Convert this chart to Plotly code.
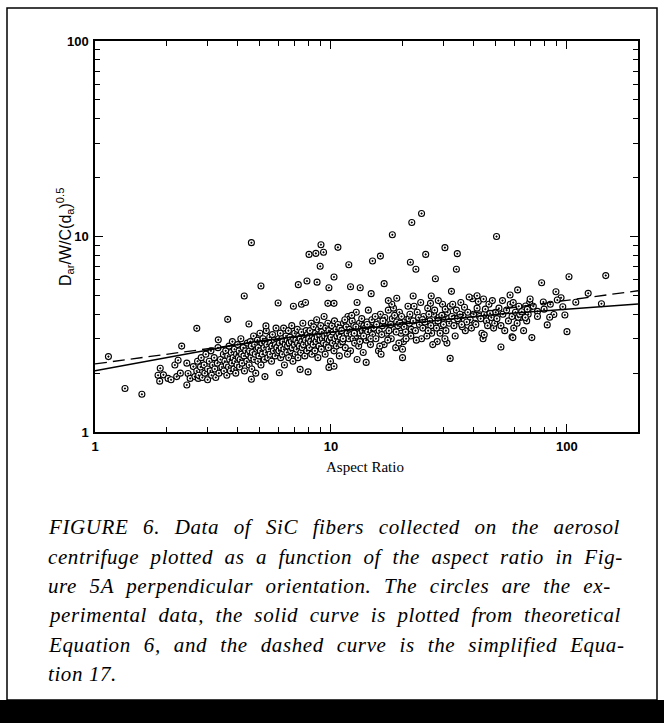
import plotly.graph_objects as go
import numpy as np

# ---------------- data ----------------
band_pts = [
    # sparse low-aspect points
    (1.85,1.95),(1.88,1.82),(1.89,2.12),(1.95,1.96),(2.04,1.88),(2.1,1.85),(2.18,2.2),(2.22,1.92),
    (2.25,2.33),(2.3,2.0),(2.45,2.25),(2.45,1.74),(2.48,1.99),(2.53,1.88),(2.61,2.16),(2.65,1.92),
    (2.74,1.88),(2.79,2.33),(2.83,2.25),
    # x 2.7-3.5
    (2.7,2.05),(2.72,2.3),(2.75,1.95),(2.8,2.15),(2.82,2.4),(2.85,1.9),(2.9,2.2),(2.92,2.0),(2.95,2.5),
    (3.0,2.1),(3.0,1.85),(3.05,2.3),(3.08,2.05),(3.1,2.6),(3.12,1.95),(3.15,2.2),(3.2,2.4),(3.22,2.1),
    (3.25,1.9),(3.3,2.25),(3.32,2.7),(3.35,2.0),(3.4,2.35),(3.45,2.15),(3.5,2.5),
    # x 3.5-4.5
    (3.52,2.05),(3.55,2.3),(3.58,2.6),(3.6,2.2),(3.62,1.95),(3.65,2.45),(3.68,2.15),(3.7,2.75),(3.72,2.35),
    (3.75,2.05),(3.78,2.55),(3.8,2.25),(3.82,2.9),(3.85,2.4),(3.88,2.1),(3.9,2.65),(3.92,2.3),(3.95,2.0),
    (3.98,2.5),(4.0,2.2),(4.02,2.8),(4.05,2.4),(4.08,2.6),(4.1,2.15),(4.12,2.35),(4.15,3.0),(4.18,2.5),
    (4.2,2.25),(4.25,2.7),(4.28,2.45),(4.3,2.05),(4.35,2.6),(4.4,2.3),(4.42,2.85),(4.45,2.5),
    # x 4.5-6
    (4.5,2.2),(4.52,2.6),(4.55,2.9),(4.58,2.4),(4.6,2.75),(4.62,2.1),(4.65,2.55),(4.7,3.1),(4.72,2.35),
    (4.75,2.8),(4.78,2.5),(4.8,2.0),(4.85,2.65),(4.88,2.95),(4.9,2.3),(4.92,2.7),(4.95,2.45),(5.0,3.2),
    (5.02,2.6),(5.05,2.2),(5.1,2.85),(5.12,2.5),(5.15,3.0),(5.2,2.7),(5.22,2.35),(5.25,2.9),(5.3,2.55),
    (5.32,3.3),(5.35,2.8),(5.4,2.4),(5.45,2.65),(5.5,3.05),(5.52,2.5),(5.55,2.85),(5.6,2.3),(5.62,2.75),
    (5.65,3.15),(5.7,2.6),(5.75,2.95),(5.8,2.45),(5.82,2.8),(5.85,3.4),(5.9,2.7),(5.95,2.55),(6.0,3.0),
    # x 6-8
    (6.02,2.6),(6.05,2.85),(6.1,3.2),(6.12,2.4),(6.15,2.7),(6.2,3.0),(6.22,2.5),(6.25,2.9),(6.3,3.4),
    (6.32,2.65),(6.35,2.2),(6.4,2.8),(6.45,3.1),(6.5,2.55),(6.52,2.95),(6.55,2.75),(6.6,3.3),(6.62,2.4),
    (6.65,2.85),(6.7,3.05),(6.75,2.6),(6.8,2.9),(6.82,3.5),(6.85,2.7),(6.9,2.3),(6.95,3.0),(7.0,2.8),
    (7.02,3.2),(7.05,2.5),(7.1,2.95),(7.15,2.65),(7.2,3.35),(7.22,2.85),(7.25,2.4),(7.3,3.1),(7.35,2.75),
    (7.4,3.0),(7.45,2.55),(7.5,3.25),(7.52,2.9),(7.55,2.7),(7.6,3.6),(7.65,2.8),(7.7,3.05),(7.75,2.45),
    (7.8,2.95),(7.85,3.3),(7.9,2.6),(7.95,3.15),(8.0,2.85),
    # x 8-11
    (8.05,3.0),(8.1,2.7),(8.15,3.3),(8.2,2.9),(8.25,3.6),(8.3,2.5),(8.35,3.1),(8.4,2.8),(8.45,3.45),
    (8.5,3.0),(8.55,2.6),(8.6,3.2),(8.65,2.9),(8.7,3.75),(8.75,3.05),(8.8,2.4),(8.85,3.35),(8.9,2.75),
    (8.95,3.15),(9.0,2.95),(9.05,3.5),(9.1,2.65),(9.15,3.25),(9.2,3.0),(9.3,2.85),(9.35,3.9),(9.4,3.1),
    (9.45,2.5),(9.5,3.4),(9.55,2.8),(9.6,3.2),(9.65,3.0),(9.7,3.6),(9.75,2.7),(9.8,3.3),(9.85,2.95),
    (9.9,3.15),(9.95,2.3),(10.0,3.05),(10.1,3.5),(10.15,2.85),(10.2,3.25),(10.3,2.6),(10.35,3.7),(10.4,3.0),
    (10.5,3.35),(10.55,2.75),(10.6,3.1),(10.7,3.55),(10.75,2.9),(10.8,3.2),(10.85,2.45),(10.9,3.4),
    (10.95,3.05),(11.0,2.8),
    # x 11-15
    (11.1,3.3),(11.2,2.9),(11.3,3.6),(11.4,3.1),(11.5,2.7),(11.6,3.45),(11.7,3.2),(11.8,3.9),(11.9,3.0),
    (12.0,3.35),(12.1,2.6),(12.2,3.15),(12.3,3.7),(12.4,3.0),(12.5,3.5),(12.6,2.85),(12.7,3.25),(12.8,4.1),
    (12.9,3.1),(13.0,3.4),(13.1,2.75),(13.2,3.6),(13.3,3.2),(13.4,3.0),(13.5,3.8),(13.6,3.3),(13.7,2.55),
    (13.8,3.5),(13.9,3.15),(14.0,3.4),(14.1,2.95),(14.2,3.65),(14.3,3.25),(14.4,4.2),(14.5,3.05),(14.6,3.45),
    (14.7,2.8),(14.8,3.3),(14.9,3.75),(15.0,3.15),(11.25,3.0),(11.75,2.5),(12.25,3.95),(12.75,3.45),
    (13.25,2.9),(13.75,3.1),(14.25,3.55),(14.75,3.0),(11.45,3.75),(12.55,3.2),
    # x 15-22
    (15.2,3.4),(15.5,3.0),(15.8,3.7),(16.0,3.3),(16.2,4.0),(16.5,3.5),(16.8,2.8),(17.0,3.6),(17.2,3.2),
    (17.5,4.2),(17.8,3.45),(18.0,3.0),(18.2,3.8),(18.5,3.35),(18.8,2.7),(19.0,3.65),(19.2,3.5),(19.5,4.1),
    (19.8,3.2),(20.0,3.55),(20.3,2.9),(20.6,3.75),(20.9,3.4),(21.2,4.4),(21.5,3.6),(21.8,3.1),(15.4,3.9),
    (15.9,2.6),(16.4,3.15),(16.9,3.85),(17.4,2.95),(17.9,3.55),(18.4,4.3),(18.9,3.25),(19.4,2.85),(19.9,3.9),
    (20.4,3.45),(20.8,3.0),(21.4,3.8),(21.9,3.35),(15.6,3.55),(16.6,3.7),(17.6,3.3),(18.6,3.95),(19.6,3.6),
    (20.7,3.25),(21.6,4.0),(16.1,2.75),(18.1,4.5),(20.1,2.65),
    # x 22-32
    (22.3,3.7),(22.8,3.3),(23.2,4.1),(23.7,3.55),(24.2,3.0),(24.7,3.9),(25.2,3.45),(25.7,4.3),(26.2,3.7),
    (26.7,3.2),(27.2,4.0),(27.7,3.6),(28.2,2.9),(28.7,3.85),(29.2,3.5),(29.7,4.5),(30.2,3.75),(30.7,3.3),
    (31.2,4.1),(31.7,3.6),(22.5,4.4),(23.0,2.95),(23.5,3.85),(24.0,4.6),(24.5,3.4),(25.0,3.65),(25.5,3.1),
    (26.0,4.0),(26.5,3.5),(27.0,2.8),(27.5,4.2),(28.0,3.4),(28.5,4.7),(29.0,3.2),(29.5,3.95),(30.0,3.55),
    (30.5,4.25),(31.0,2.85),(31.5,3.8),(32.0,4.4),(24.4,3.75),(26.4,4.55),(28.4,3.7),(30.4,3.0),(25.8,3.3),
    # x 32-50
    (32.5,3.9),(33.2,3.5),(34.0,4.2),(34.8,3.7),(35.5,4.6),(36.3,3.95),(37.1,3.3),(38.0,4.1),(38.9,3.75),
    (39.8,4.8),(40.7,3.6),(41.6,4.3),(42.6,3.9),(43.6,3.2),(44.6,4.0),(45.6,3.7),(46.7,4.5),(47.8,3.85),
    (48.9,3.4),(49.9,4.1),(32.8,4.5),(33.6,3.1),(34.4,3.8),(35.2,4.0),(36.0,3.45),(36.8,4.35),(37.6,3.65),
    (38.5,4.9),(39.4,3.4),(40.2,4.0),(41.1,3.55),(42.1,4.65),(43.1,3.8),(44.1,3.0),(45.1,4.25),(46.1,3.5),
    (47.2,4.05),(48.3,4.7),(49.4,3.6),(35.8,3.55),
    # x 50-75
    (50.5,3.8),(51.5,4.3),(52.5,3.5),(53.5,4.0),(54.5,3.3),(55.5,4.2),(56.5,3.7),(57.5,4.5),(58.5,3.9),
    (59.5,3.4),(60.5,4.1),(61.5,3.6),(62.5,4.4),(63.5,3.85),(64.5,4.05),(65.5,3.3),(66.5,4.25),(67.5,3.7),
    (68.5,4.0),(69.5,4.6),(61.8,5.33),(57.4,5.02),(53.3,4.7),(59.2,4.59),(69.8,4.79),(66.8,4.41),(65.8,4.21),
    (62.2,3.86),(66.6,3.85),(63.1,4.0),(69.8,4.34),(67.9,4.24),(64.3,4.12),(58.5,3.07),(59.0,3.04),
    (52.5,2.72),(44.6,3.14),(71.0,3.04),(75.0,4.14),
    # x 70-200
    (78.1,5.8),(102,6.23),(146,6.31),(123,5.12),(89.8,5.22),(94.4,4.86),(91,4.73),(79.4,4.62),(109,4.61),
    (140,4.53),(96,4.37),(98,3.97),(88,3.99),(84.5,3.86),(82.5,3.53),(100,3.26),(72,4.4),(75,3.9),(80,4.25),
    (85,4.5),
]

outlier_pts = [
    (1.14,2.43),(1.34,1.67),(1.58,1.56),(2.33,2.75),(2.70,3.39),(3.65,3.77),(3.33,2.96),(4.29,4.96),
    (5.05,5.58),(4.49,3.57),(5.3,3.49),(5.97,4.57),(4.6,9.3),(24.2,13.1),(22.0,11.8),(18.2,10.2),
    (50.3,10.0),(9.07,9.08),(10.7,8.8),(8.07,8.1),(8.63,8.2),(9.3,8.3),(9.0,7.04),(11.9,7.17),(15.0,7.5),
    (16.2,7.94),(21.7,7.38),(22.9,6.8),(25.2,8.1),(30.4,8.77),(34.3,8.17),(34.0,6.8),(27.7,6.08),
    (10.3,6.21),(7.27,5.67),(7.91,5.92),(8.73,5.84),(9.8,5.47),(12.1,5.53),(13.3,5.47),(14.8,5.1),
    (16.8,5.74),(32.4,5.24),(6.93,4.4),(7.5,4.5),(7.8,4.6),(9.7,4.55),(10.3,4.55),(12.9,4.6),(19.0,4.83),
    (17.5,4.7),(22.3,4.96),(26.6,4.96),(41.6,4.98),(44.3,4.79),(32.0,2.38),(20.1,2.4),(16.3,2.5),
    (14.1,2.27),(12.9,2.35),(9.8,2.14),(10.3,2.17),(7.4,2.09),(8.0,2.03),(4.6,1.86),(5.25,1.92),(6.04,2.01),
]

aspect_ratio = [p[0] for p in band_pts + outlier_pts]
dyn_ratio = [p[1] for p in band_pts + outlier_pts]

# theoretical Equation 6 (solid) and simplified Equation 17 (dashed)
eq6_x = [1, 2, 4.5, 10, 20, 52, 100, 200]
eq6_y = [2.06, 2.40, 2.87, 3.24, 3.57, 4.01, 4.26, 4.52]
eq17_x = [1, 10, 100, 200]
eq17_y = [2.23, 3.24, 4.70, 5.28]

x_ticks = [1, 10, 100]
y_ticks = [1, 10, 100]

caption = [
    "FIGURE 6. Data of SiC fibers collected on the aerosol",
    "centrifuge plotted as a function of the aspect ratio in Fig-",
    "ure 5A perpendicular orientation. The circles are the ex-",
    "perimental data, the solid curve is plotted from theoretical",
    "Equation 6, and the dashed curve is the simplified Equa-",
    "tion 17.",
]
# extra word spacing (px) used to justify each caption line
caption_wordspace = [8.8, 5.6, 6.7, 5.6, 7.2, 0]

# ---------------- layout geometry ----------------
W, H = 664, 723
L, R, T, B = 95, 638, 41, 432


def px(x):
    return (x - L) / (R - L)


def py(y):
    return (B - y) / (B - T)


fig = go.Figure()
fig.add_trace(go.Scatter(
    x=aspect_ratio, y=dyn_ratio, mode="markers",
    marker=dict(symbol="circle-dot", size=6, color="white",
                line=dict(color="black", width=1.1)),
    showlegend=False))
fig.add_trace(go.Scatter(x=eq6_x, y=eq6_y, mode="lines",
                         line=dict(color="black", width=1.5), showlegend=False))
fig.add_trace(go.Scatter(x=eq17_x, y=eq17_y, mode="lines",
                         line=dict(color="black", width=1.3, dash="12px,6px"),
                         showlegend=False))

minor_vals = [v * m for m in (1, 10, 100) for v in range(2, 10)]
axis_common = dict(
    type="log", showgrid=False, zeroline=False,
    showline=True, linecolor="black", linewidth=1.5, mirror="ticks",
    ticks="inside", ticklen=8, tickwidth=1, tickcolor="black",
    tickfont=dict(family="Liberation Sans, Arial", size=13, color="black"),
    minor=dict(ticks="inside", ticklen=5, tickwidth=1, tickcolor="black",
               tickvals=minor_vals, showgrid=False),
)
fig.update_xaxes(range=[0, np.log10(200)], tickvals=x_ticks,
                 ticktext=["<b>%d</b>" % v for v in x_ticks], ticklabelstandoff=2, **axis_common)
fig.update_yaxes(range=[0, 2], tickvals=y_ticks,
                 ticktext=["<b>%d</b>" % v for v in y_ticks], ticklabelstandoff=2, **axis_common)

annotations = [
    dict(text="Aspect Ratio", x=px(365), y=py(477), xref="paper", yref="paper",
         showarrow=False, font=dict(family="Liberation Sans" if False else "Liberation Serif, Times New Roman",
                                    size=15, color="black")),
    dict(text="D<sub>ar</sub>/W/C(d<sub>a</sub>)<sup>0.5</sup>", x=px(52), y=py(237),
         xref="paper", yref="paper", showarrow=False, textangle=-90,
         font=dict(family="Liberation Sans, Arial", size=16, color="black")),
]
line_y = [527, 557, 586, 615, 645, 674]
for txt, yy, ws in zip(caption, line_y, caption_wordspace):
    annotations.append(dict(
        text='<span style="letter-spacing:0.6px;word-spacing:%.1fpx"><i>%s</i></span>' % (ws, txt),
        x=px(46), y=py(yy), xref="paper", yref="paper",
        xanchor="left", yanchor="middle", showarrow=False,
        font=dict(family="Liberation Serif, Times New Roman", size=21, color="black")))

shapes = [
    dict(type="rect", xref="paper", yref="paper", x0=px(7), x1=px(657), y0=py(700), y1=py(8),
         line=dict(color="black", width=1.5)),
    dict(type="rect", xref="paper", yref="paper", x0=px(0), x1=px(664), y0=py(723), y1=py(700),
         line=dict(width=0), fillcolor="black"),
]

fig.update_layout(
    width=W, height=H, margin=dict(l=L, r=W - R, t=T, b=H - B),
    paper_bgcolor="white", plot_bgcolor="white",
    annotations=annotations, shapes=shapes,
)
fig.write_html("out.html")
